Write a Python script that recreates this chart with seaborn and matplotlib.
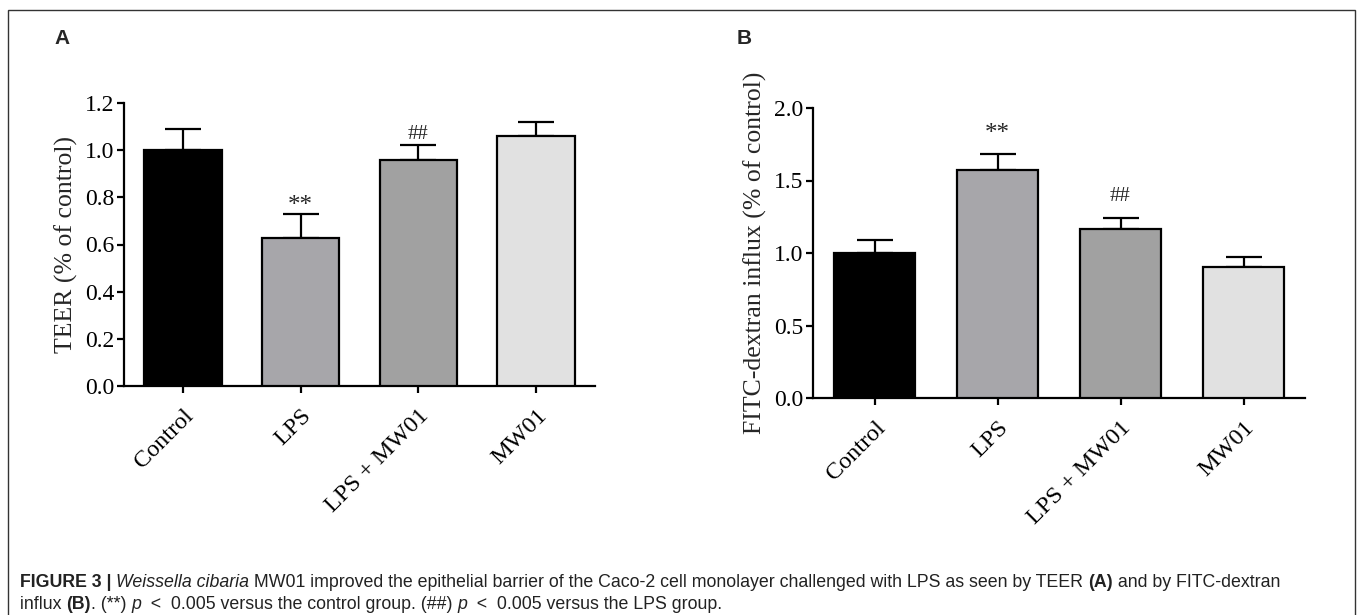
import numpy as np
import pandas as pd
import matplotlib
matplotlib.use("Agg")
import matplotlib.pyplot as plt
from matplotlib import font_manager
from matplotlib.patches import Rectangle
import seaborn as sns

# ---------------- data ----------------
groups = ["Control", "LPS", "LPS + MW01", "MW01"]
teer_mean = [1.00, 0.628, 0.959, 1.061]
teer_err = [0.090, 0.100, 0.062, 0.060]
fitc_mean = [1.00, 1.572, 1.168, 0.906]
fitc_err = [0.092, 0.112, 0.076, 0.066]
teer_marks = ["", "**", "##", ""]
fitc_marks = ["", "**", "##", ""]
teer_ticks = [0.0, 0.2, 0.4, 0.6, 0.8, 1.0, 1.2]
fitc_ticks = [0.0, 0.5, 1.0, 1.5, 2.0]
bar_colors = ["#000000", "#a6a5ab", "#a1a1a1", "#e1e1e1"]

sns.set_theme(style="ticks")
serif = ["Liberation Serif", "DejaVu Serif"]
plt.rcParams["font.family"] = serif

avail = {f.name for f in font_manager.fontManager.ttflist}
cap_font = "Liberation Sans Narrow" if "Liberation Sans Narrow" in avail else "Liberation Sans"

W, H = 1358, 615
fig = plt.figure(figsize=(W / 100, H / 100), dpi=100)

def px_axes(left, right, top, bottom):
    return fig.add_axes([left / W, 1 - bottom / H, (right - left) / W, (bottom - top) / H])

axA = px_axes(124, 595, 103, 386)
axB = px_axes(813, 1305, 108, 398)

def panel(ax, means, errs, marks, ticks, ylab, ymax, offs):
    df = pd.DataFrame({"group": groups, "value": means})
    sns.barplot(data=df, x="group", y="value", hue="group", palette=bar_colors,
                order=groups, hue_order=groups, legend=False, width=0.66,
                edgecolor="black", linewidth=1.6, errorbar=None, ax=ax, zorder=3)
    xs = np.arange(len(groups))
    ax.errorbar(xs, means, yerr=[np.zeros(len(errs)), errs], fmt="none",
                ecolor="black", elinewidth=1.6, capsize=13, capthick=1.6, zorder=2)
    for x, m, e, t in zip(xs, means, errs, marks):
        if t:
            fs = 18 if t == "**" else 15
            ax.annotate(t, (x, m + e), xytext=(0, offs[t]), textcoords="offset points",
                        ha="center", va="center", fontsize=fs, family=serif)
    ax.set_xlim(-0.5, 3.5)
    ax.set_ylim(0, ymax)
    ax.set_yticks(ticks)
    ax.set_yticklabels([f"{t:.1f}" for t in ticks], fontsize=17)
    ax.set_xticks(xs)
    ax.set_xticklabels(groups, rotation=45, ha="right", rotation_mode="anchor", fontsize=17.5)
    ax.set_xlabel("")
    ax.set_ylabel(ylab, fontsize=18.5, labelpad=5)
    for s in ["top", "right"]:
        ax.spines[s].set_visible(False)
    for s in ["left", "bottom"]:
        ax.spines[s].set_linewidth(1.6)
        ax.spines[s].set_color("black")
    ax.tick_params(axis="both", direction="out", length=5, width=1.6, color="black",
                   labelcolor="black", pad=2)
    ax.tick_params(axis="x", pad=9)
    ax.set_facecolor("white")

panel(axA, teer_mean, teer_err, teer_marks, teer_ticks, "TEER (% of control)", 1.2,
      {"**": 6, "##": 8})
panel(axB, fitc_mean, fitc_err, fitc_marks, fitc_ticks, "FITC-dextran influx (% of control)", 2.0,
      {"**": 14, "##": 15})

# panel letters
fig.text(54 / W, 1 - 29 / H, "A", fontsize=15, fontweight="bold", family="Liberation Sans",
         ha="left", va="top")
fig.text(737 / W, 1 - 29 / H, "B", fontsize=15, fontweight="bold", family="Liberation Sans",
         ha="left", va="top")

# outer border
fig.patches.append(Rectangle((8 / W, -0.01), (1355 - 8) / W, 1.01 - 10 / H,
                             transform=fig.transFigure, fill=False,
                             edgecolor="#333333", linewidth=1.0))

# caption with mixed styles
fig.canvas.draw()
renderer = fig.canvas.get_renderer()

def runs(x0, y, parts, size=12.8):
    x = x0
    for txt, weight, style in parts:
        t = fig.text(x / W, 1 - y / H, txt, fontsize=size, fontweight=weight, fontstyle=style,
                     family=cap_font, ha="left", va="baseline", color="#222222")
        bb = t.get_window_extent(renderer=renderer)
        x += bb.width

runs(20, 587, [("FIGURE 3 | ", "bold", "normal"),
               ("Weissella cibaria", "normal", "italic"),
               (" MW01 improved the epithelial barrier of the Caco-2 cell monolayer challenged with LPS as seen by TEER ", "normal", "normal"),
               ("(A)", "bold", "normal"),
               (" and by FITC-dextran", "normal", "normal")])
runs(20, 609, [("influx ", "normal", "normal"),
               ("(B)", "bold", "normal"),
               (". (**) ", "normal", "normal"),
               ("p", "normal", "italic"),
               ("  <  0.005 versus the control group. (##) ", "normal", "normal"),
               ("p", "normal", "italic"),
               ("  <  0.005 versus the LPS group.", "normal", "normal")])

fig.savefig("out.png", dpi=100, facecolor="white")
